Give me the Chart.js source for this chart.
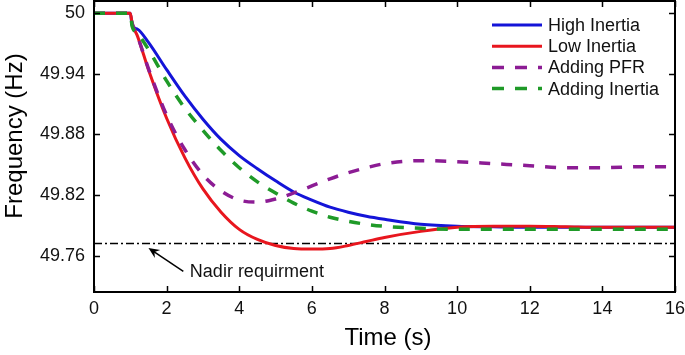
<!DOCTYPE html>
<html><head><meta charset="utf-8">
<script src="https://cdn.jsdelivr.net/npm/chart.js@4/dist/chart.umd.min.js"></script>
<style>html,body{margin:0;padding:0;background:#fff}#wrap{width:685px;height:355px}</style>
</head><body><div id="wrap"><canvas id="c" width="685" height="355"></canvas></div>
<script>
const time          = [0, 1, 1.05, 1.2, 1.5, 2, 2.5, 3, 3.5, 4, 4.5, 5, 5.5, 6, 6.5, 7, 7.5, 8, 9, 10, 11, 12, 13, 14, 15, 16];
const highInertia   = [50, 50, 49.988, 49.984, 49.971, 49.944, 49.918, 49.895, 49.875, 49.859, 49.846, 49.834, 49.823, 49.815, 49.808, 49.803, 49.799, 49.796, 49.791, 49.789, 49.7885, 49.788, 49.788, 49.788, 49.788, 49.788];
const lowInertia    = [50, 50, 49.990, 49.977, 49.944, 49.896, 49.857, 49.826, 49.803, 49.786, 49.776, 49.770, 49.767, 49.7665, 49.767, 49.770, 49.774, 49.778, 49.784, 49.788, 49.789, 49.789, 49.7885, 49.788, 49.788, 49.788];
const addingPFR     = [50, 50, 49.990, 49.977, 49.945, 49.899, 49.865, 49.840, 49.824, 49.815, 49.813, 49.816, 49.822, 49.829, 49.836, 49.842, 49.847, 49.851, 49.854, 49.853, 49.851, 49.849, 49.847, 49.847, 49.848, 49.848];
const addingInertia = [50, 50, 49.987, 49.980, 49.964, 49.933, 49.906, 49.884, 49.864, 49.847, 49.833, 49.822, 49.812, 49.804, 49.798, 49.794, 49.791, 49.789, 49.787, 49.786, 49.786, 49.786, 49.786, 49.786, 49.786, 49.786];
const nadirTime     = [0, 16];
const nadirValue    = [49.772, 49.772];
const seriesNames   = ['High Inertia', 'Low Inertia', 'Adding PFR', 'Adding Inertia'];
const xTicks        = [0, 2, 4, 6, 8, 10, 12, 14, 16];
const yTicks        = [49.76, 49.82, 49.88, 49.94, 50];
const yTickLabels   = ['49.76', '49.82', '49.88', '49.94', '50'];
const xTitle = 'Time (s)';
const yTitle = 'Frequency (Hz)';
const nadirLabel = 'Nadir requirment';

const FONT = "'Liberation Sans', Arial, sans-serif";
const pts = (xs, ys) => xs.map((x, i) => ({x: x, y: ys[i]}));

const colors = ['#1414d8', '#e8161e', '#8c1c94', '#1f9a28'];
const dashes = [[], [], [11, 11], [11, 11]];
const seriesData = [highInertia, lowInertia, addingPFR, addingInertia];

const datasets = seriesData.map((arr, i) => ({
  label: seriesNames[i],
  data: pts(time, arr),
  borderColor: colors[i],
  backgroundColor: colors[i],
  borderWidth: i < 2 ? 3 : 3.5,
  borderDash: dashes[i],
  pointRadius: 0,
  fill: false,
  cubicInterpolationMode: 'monotone',
  order: 3 - i
}));
datasets.push({
  label: 'Nadir',
  data: pts(nadirTime, nadirValue),
  borderColor: '#000',
  borderWidth: 1.7,
  borderDash: [8, 3, 2, 3],
  pointRadius: 0,
  fill: false,
  order: 10
});

const decor = {
  id: 'decor',
  afterDraw(chart) {
    const ctx = chart.ctx, a = chart.chartArea;
    const xs = chart.scales.x, ys = chart.scales.y;
    ctx.save();
    ctx.strokeStyle = '#000';
    ctx.lineWidth = 2;
    ctx.strokeRect(a.left, a.top, a.right - a.left, a.bottom - a.top);
    ctx.lineWidth = 1.5;
    ctx.beginPath();
    xTicks.forEach(v => {
      const px = Math.round(xs.getPixelForValue(v)) + 0.5;
      ctx.moveTo(px, a.bottom); ctx.lineTo(px, a.bottom - 6);
      ctx.moveTo(px, a.top); ctx.lineTo(px, a.top + 6);
    });
    yTicks.forEach(v => {
      const py = Math.round(ys.getPixelForValue(v)) + 0.5;
      ctx.moveTo(a.left, py); ctx.lineTo(a.left + 6, py);
      ctx.moveTo(a.right, py); ctx.lineTo(a.right - 6, py);
    });
    ctx.stroke();
    ctx.fillStyle = '#000';
    ctx.font = '24px ' + FONT;
    ctx.textAlign = 'center';
    ctx.textBaseline = 'middle';
    ctx.fillText(xTitle, 388, 338);
    ctx.save();
    ctx.translate(15, 136);
    ctx.rotate(-Math.PI / 2);
    ctx.fillText(yTitle, 0, 0);
    ctx.restore();
    ctx.font = '18px ' + FONT;
    ctx.textAlign = 'left';
    seriesNames.forEach((name, i) => {
      const y = 25 + i * 21.2;
      const ds = chart.data.datasets[i];
      ctx.beginPath();
      ctx.strokeStyle = ds.borderColor;
      ctx.lineWidth = ds.borderWidth;
      ctx.setLineDash(i < 2 ? [] : [12, 11]);
      ctx.moveTo(492, y); ctx.lineTo(542, y);
      ctx.stroke();
      ctx.setLineDash([]);
      ctx.fillStyle = '#111';
      ctx.fillText(name, 548, y + 1);
    });
    ctx.fillStyle = '#111';
    ctx.font = '18px ' + FONT;
    ctx.fillText(nadirLabel, xs.getPixelForValue(2.64), ys.getPixelForValue(49.7435));
    const x1 = xs.getPixelForValue(2.46), y1 = ys.getPixelForValue(49.7445);
    const x0 = xs.getPixelForValue(1.50), y0 = ys.getPixelForValue(49.7676);
    const ang = Math.atan2(y0 - y1, x0 - x1);
    ctx.strokeStyle = '#000';
    ctx.lineWidth = 1.5;
    ctx.beginPath();
    ctx.moveTo(x1, y1);
    ctx.lineTo(x0 - 6 * Math.cos(ang), y0 - 6 * Math.sin(ang));
    ctx.stroke();
    ctx.beginPath();
    const L = 12, W = 0.42;
    ctx.moveTo(x0, y0);
    ctx.lineTo(x0 - L * Math.cos(ang - W), y0 - L * Math.sin(ang - W));
    ctx.lineTo(x0 - 0.6 * L * Math.cos(ang), y0 - 0.6 * L * Math.sin(ang));
    ctx.lineTo(x0 - L * Math.cos(ang + W), y0 - L * Math.sin(ang + W));
    ctx.closePath();
    ctx.fillStyle = '#000';
    ctx.fill();
    ctx.restore();
  }
};

new Chart(document.getElementById('c'), {
  type: 'line',
  data: {datasets: datasets},
  options: {
    responsive: false,
    animation: false,
    devicePixelRatio: 1,
    layout: {autoPadding: false, padding: {top: 1, right: 10, left: 0, bottom: 0}},
    plugins: {legend: {display: false}, tooltip: {enabled: false}},
    scales: {
      x: {
        type: 'linear', min: 0, max: 16,
        afterBuildTicks: s => { s.ticks = xTicks.map(v => ({value: v})); },
        ticks: {font: {family: FONT, size: 18}, color: '#111', padding: 6, maxRotation: 0, autoSkip: false},
        grid: {display: false, drawTicks: false},
        border: {display: false},
        afterFit: s => { s.height = 63; s.paddingLeft = 0; s.paddingRight = 0; }
      },
      y: {
        type: 'linear', min: 49.724, max: 50.012,
        afterBuildTicks: s => { s.ticks = yTicks.map(v => ({value: v})); },
        ticks: {font: {family: FONT, size: 18}, color: '#111', padding: 9, autoSkip: false,
                callback: (v, i) => yTickLabels[i]},
        grid: {display: false, drawTicks: false},
        border: {display: false},
        afterFit: s => { s.width = 94; s.paddingTop = 0; s.paddingBottom = 0; }
      }
    }
  },
  plugins: [decor]
});
</script>
</body></html>
